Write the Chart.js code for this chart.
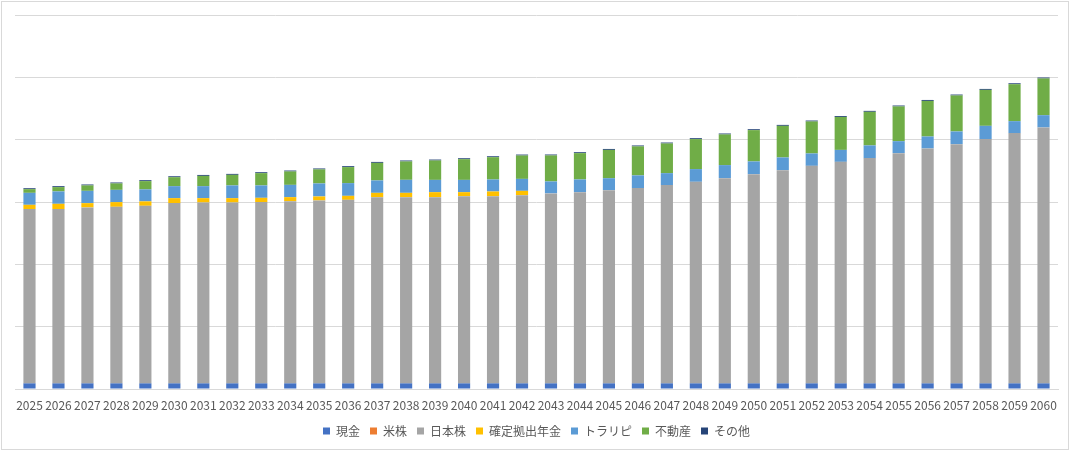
<!DOCTYPE html>
<html>
<head>
<meta charset="utf-8">
<script src="https://cdn.jsdelivr.net/npm/chart.js@4/dist/chart.umd.min.js"></script>
<style>
    body { margin: 0; background: #fff; }
    #wrap { position: relative; width: 1073px; height: 452px; }
</style>
</head>
<body>
<div id="wrap"><canvas id="asset-chart"></canvas></div>
<script>
// 年
const years = [
    '2025', '2026', '2027', '2028', '2029', '2030', '2031', '2032', '2033', '2034',
    '2035', '2036', '2037', '2038', '2039', '2040', '2041', '2042', '2043', '2044',
    '2045', '2046', '2047', '2048', '2049', '2050', '2051', '2052', '2053', '2054',
    '2055', '2056', '2057', '2058', '2059', '2060'
];

const cash = [
    90, 90, 90, 90, 90, 90, 90, 90, 90, 90,
    90, 90, 90, 90, 90, 90, 90, 90, 90, 90,
    90, 90, 90, 90, 90, 90, 90, 90, 90, 90,
    90, 90, 90, 90, 90, 90
];
const usStocks = [
    0, 0, 0, 0, 0, 0, 0, 0, 0, 0,
    0, 0, 0, 0, 0, 0, 0, 0, 0, 0,
    0, 0, 0, 0, 0, 0, 0, 0, 0, 0,
    0, 0, 0, 0, 0, 0
];
const japanStocks = [
    2796, 2796, 2823, 2833, 2849, 2892, 2903, 2903, 2908, 2924,
    2935, 2945, 2988, 2988, 2988, 3004, 3004, 3020, 3048, 3068,
    3100, 3133, 3181, 3234, 3293, 3357, 3421, 3490, 3554, 3614,
    3694, 3769, 3838, 3919, 4015, 4106
];
const pension = [
    69, 85, 69, 75, 71, 80, 69, 69, 69, 64,
    64, 64, 69, 69, 80, 64, 75, 69, 0, 0,
    0, 0, 0, 0, 0, 0, 0, 0, 0, 0,
    0, 0, 0, 0, 0, 0
];
const trapRepeat = [
    192, 199, 197, 197, 192, 192, 192, 204, 199, 197,
    209, 204, 199, 209, 197, 197, 192, 192, 192, 204,
    192, 204, 192, 204, 209, 204, 204, 199, 192, 204,
    192, 192, 204, 213, 192, 197
];
const realEstate = [
    59, 69, 87, 103, 133, 144, 165, 170, 197, 215,
    225, 257, 282, 295, 311, 332, 358, 375, 417, 422,
    454, 465, 476, 481, 492, 502, 507, 513, 529, 539,
    557, 571, 577, 577, 593, 589
];
const others = [
    15, 15, 15, 15, 15, 15, 15, 15, 15, 15,
    15, 15, 15, 15, 15, 15, 15, 15, 15, 15,
    15, 15, 15, 15, 15, 15, 15, 15, 15, 15,
    15, 15, 15, 15, 15, 15
];

const FONT = "'Noto Sans CJK JP', 'Noto Sans', sans-serif";

// 外枠
const frame = {
    id: 'frame',
    afterDraw(chart) {
        const c = chart.ctx;
        c.save();
        c.strokeStyle = '#d9d9d9';
        c.lineWidth = 1;
        c.strokeRect(1.5, 1.5, 1067, 448);
        c.restore();
    }
};

function series(label, data, color) {
    return {
        label: label,
        data: data,
        backgroundColor: color,
        borderWidth: 0,
        categoryPercentage: 1,
        barPercentage: 0.42
    };
}

new Chart(document.getElementById('asset-chart'), {
    type: 'bar',
    data: {
        labels: years,
        datasets: [
            series('現金', cash, '#4472c4'),
            series('米株', usStocks, '#ed7d31'),
            series('日本株', japanStocks, '#a5a5a5'),
            series('確定拠出年金', pension, '#ffc000'),
            series('トラリピ', trapRepeat, '#5b9bd5'),
            series('不動産', realEstate, '#70ad47'),
            series('その他', others, '#264478')
        ]
    },
    options: {
        responsive: true,
        maintainAspectRatio: false,
        animation: false,
        layout: {
            padding: { left: 15, right: 15, top: 15, bottom: 5 }
        },
        scales: {
            x: {
                stacked: true,
                grid: { display: false, drawTicks: false },
                border: { color: '#d9d9d9' },
                ticks: {
                    color: '#595959',
                    font: { family: FONT, size: 12 },
                    maxRotation: 0,
                    autoSkip: false,
                    padding: 9
                },
                // labels are clipped to this box, so leave just enough room
                afterFit: function (scale) {
                    scale.height = 26;
                }
            },
            y: {
                stacked: true,
                min: 0,
                max: 6000,
                grid: { color: '#d9d9d9', drawTicks: false },
                border: { display: false },
                ticks: { display: false, stepSize: 1000 }
            }
        },
        plugins: {
            legend: {
                position: 'bottom',
                labels: {
                    color: '#595959',
                    font: { family: FONT, size: 12 },
                    boxWidth: 7,
                    boxHeight: 7,
                    padding: 10
                }
            },
            tooltip: { enabled: false }
        }
    },
    plugins: [frame]
});
</script>
</body>
</html>
